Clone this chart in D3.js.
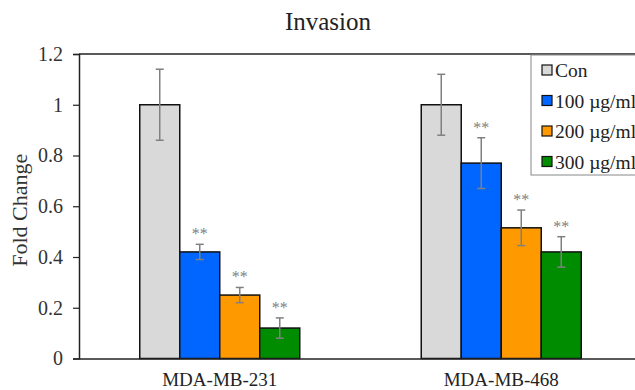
<!DOCTYPE html>
<html>
<head>
<meta charset="utf-8">
<script src="https://cdn.jsdelivr.net/npm/d3@7"></script>
</head>
<body style="margin:0">
<script>
// Data
const cellLines = ['MDA-MB-231', 'MDA-MB-468']
const doses = ['Con', '100 µg/ml', '200 µg/ml', '300 µg/ml']
const doseColors = ['#d9d9d9', '#0066ff', '#ff9900', '#008c00']
const foldChange = [
  [1.0, 0.42, 0.25, 0.12],
  [1.0, 0.77, 0.515, 0.42],
]
const errors = [
  [0.14, 0.03, 0.03, 0.04],
  [0.12, 0.10, 0.07, 0.06],
]
const significant = [
  [false, true, true, true],
  [false, true, true, true],
]
const yTicks = [0, 0.2, 0.4, 0.6, 0.8, 1, 1.2]

const FONT = "'Liberation Serif'"
const width = 635
const height = 390
const margin = { top: 54, left: 79, bottom: 31.5 }
const plotRight = 642 // frame runs off the right edge

const svg = d3.select('body')
  .append('svg')
  .attr('width', width)
  .attr('height', height)

// Scales
const x0 = d3.scaleBand()
  .domain(cellLines)
  .range([margin.left, plotRight])
  .paddingInner(0.4316)
  .paddingOuter(0.2158)

const x1 = d3.scaleBand()
  .domain(doses)
  .range([0, x0.bandwidth()])

const y = d3.scaleLinear()
  .domain([0, 1.2])
  .range([height - margin.bottom, margin.top])

const color = d3.scaleOrdinal().domain(doses).range(doseColors)

// Title
svg.append('text')
  .attr('x', 328)
  .attr('y', 30)
  .attr('text-anchor', 'middle')
  .style('font-family', FONT)
  .style('font-size', '25px')
  .attr('fill', '#222')
  .text('Invasion')

// Y axis
const yAxis = svg.append('g')
  .attr('transform', `translate(${margin.left},0)`)
  .call(d3.axisLeft(y).tickValues(yTicks).tickSize(6).tickPadding(10).tickFormat(d3.format('~g')))
  .attr('font-family', null)
yAxis.select('.domain').attr('stroke', '#222').attr('stroke-width', 1.5)
yAxis.selectAll('.tick line').attr('stroke', '#222').attr('stroke-width', 1.2)
yAxis.selectAll('.tick text')
  .style('font-family', FONT)
  .style('font-size', '20px')
  .attr('fill', '#333')

// Y label
svg.append('text')
  .attr('transform', `translate(27,${(y(0) + y(1.2)) / 2 + 4}) rotate(-90)`)
  .attr('text-anchor', 'middle')
  .style('font-family', FONT)
  .style('font-size', '22px')
  .attr('fill', '#333')
  .text('Fold Change')

// Top frame line
svg.append('line')
  .attr('x1', margin.left).attr('x2', plotRight)
  .attr('y1', y(1.2)).attr('y2', y(1.2))
  .attr('stroke', '#222').attr('stroke-width', 1.5)

// Bars
const groups = svg.append('g')
  .selectAll('g')
  .data(cellLines)
  .join('g')
  .attr('transform', d => `translate(${x0(d)},0)`)

const barData = ci => doses.map((dose, di) => ({
  dose,
  value: foldChange[ci][di],
  err: errors[ci][di],
  sig: significant[ci][di],
}))

groups.each(function (c, ci) {
  const g = d3.select(this)
  const data = barData(ci)
  const cx = d => x1(d.dose) + x1.bandwidth() / 2

  g.selectAll('rect')
    .data(data)
    .join('rect')
    .attr('x', d => x1(d.dose))
    .attr('y', d => y(d.value))
    .attr('width', x1.bandwidth())
    .attr('height', d => y(0) - y(d.value))
    .attr('fill', d => color(d.dose))
    .attr('stroke', '#111')
    .attr('stroke-width', 1.5)

  // Error bars
  const eb = g.selectAll('g.err')
    .data(data)
    .join('g')
    .attr('class', 'err')
    .attr('stroke', '#808080')
    .attr('stroke-width', 1.5)
  eb.append('line')
    .attr('x1', cx).attr('x2', cx)
    .attr('y1', d => y(d.value + d.err)).attr('y2', d => y(d.value - d.err))
  eb.append('line')
    .attr('x1', d => cx(d) - 4).attr('x2', d => cx(d) + 4)
    .attr('y1', d => y(d.value + d.err)).attr('y2', d => y(d.value + d.err))
  eb.append('line')
    .attr('x1', d => cx(d) - 4).attr('x2', d => cx(d) + 4)
    .attr('y1', d => y(d.value - d.err)).attr('y2', d => y(d.value - d.err))

  // Significance stars
  g.selectAll('text.sig')
    .data(data.filter(d => d.sig))
    .join('text')
    .attr('class', 'sig')
    .attr('x', cx)
    .attr('y', d => y(d.value + d.err) - 5)
    .attr('text-anchor', 'middle')
    .style('font-family', FONT)
    .style('font-size', '16px')
    .attr('fill', '#808080')
    .text('**')
})

// X axis (baseline)
const xAxis = svg.append('g')
  .attr('transform', `translate(0,${y(0)})`)
  .call(d3.axisBottom(x0).tickSize(0).tickPadding(14))
  .attr('font-family', null)
xAxis.select('.domain').attr('stroke', '#222').attr('stroke-width', 1.5)
xAxis.selectAll('.tick text')
  .style('font-family', FONT)
  .style('font-size', '19px')
  .attr('fill', '#222')

// Legend
const legend = svg.append('g').attr('transform', 'translate(531,55)')
legend.append('rect')
  .attr('width', 130)
  .attr('height', 120)
  .attr('fill', '#fff')
  .attr('stroke', '#888')
  .attr('stroke-width', 1)
const item = legend.selectAll('g.item')
  .data(doses)
  .join('g')
  .attr('class', 'item')
  .attr('transform', (d, i) => `translate(11,${15 + i * 30.5})`)
item.append('rect')
  .attr('x', 0).attr('y', -5)
  .attr('width', 10).attr('height', 10)
  .attr('fill', d => color(d))
  .attr('stroke', '#111')
  .attr('stroke-width', 1.2)
item.append('text')
  .attr('x', 13)
  .attr('y', 7)
  .style('font-family', FONT)
  .style('font-size', '19.5px')
  .attr('fill', '#222')
  .text(d => d)
</script>
</body>
</html>
